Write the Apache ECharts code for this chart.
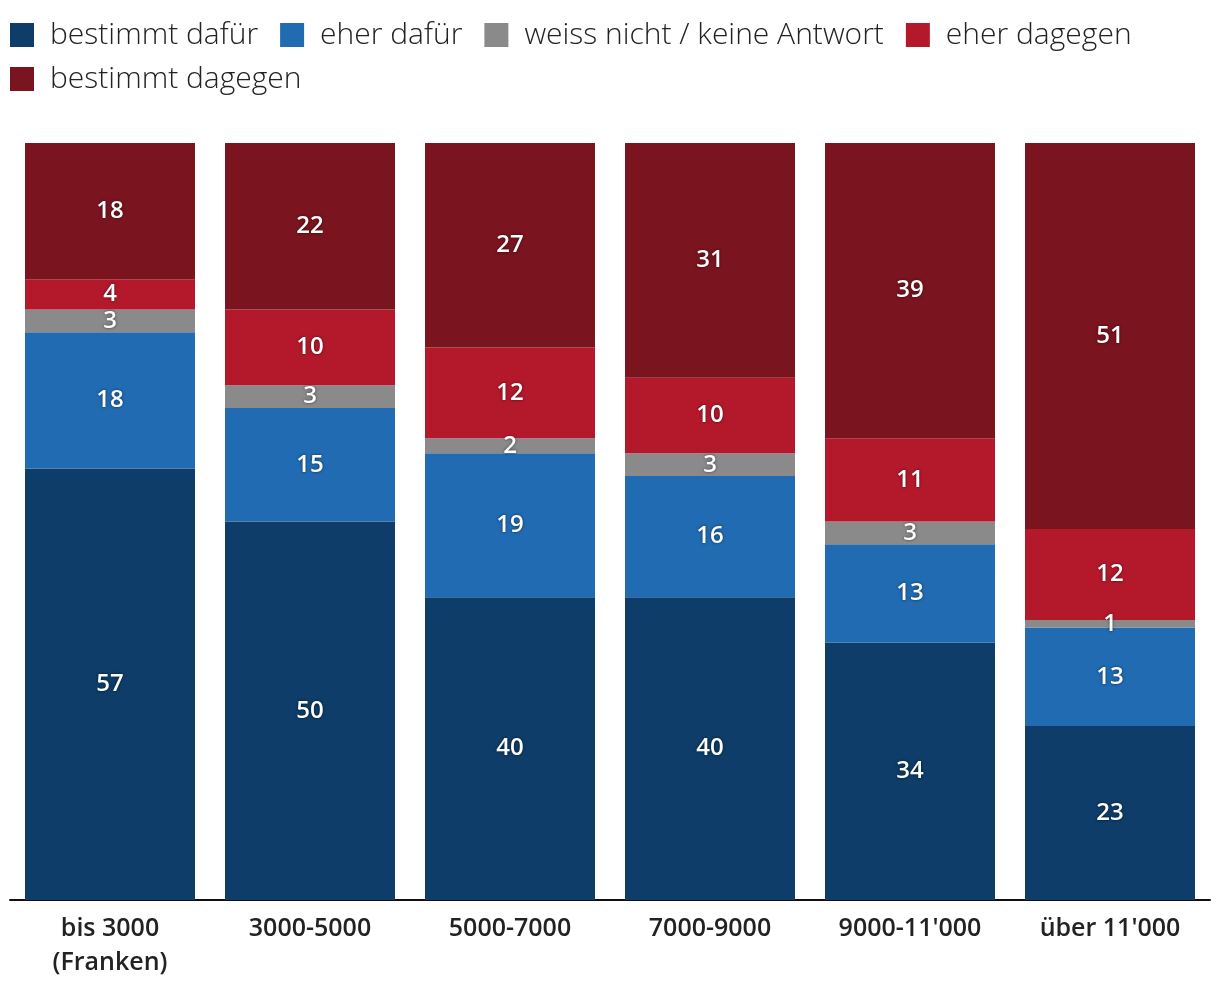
<!DOCTYPE html>
<html>
<head>
<meta charset="utf-8">
<script src="https://cdn.jsdelivr.net/npm/echarts@6/dist/echarts.min.js"></script>
<style>html,body{margin:0;padding:0;background:#fff}#c{width:1220px;height:998px}</style>
</head>
<body>
<div id="c"></div>
<script>
const categories = ["bis 3000\n(Franken)", "3000-5000", "5000-7000", "7000-9000", "9000-11'000", "über 11'000"];
const seriesNames = ["bestimmt dafür", "eher dafür", "weiss nicht / keine Antwort", "eher dagegen", "bestimmt dagegen"];
const bestimmtDafuer = [57, 50, 40, 40, 34, 23];
const eherDafuer = [18, 15, 19, 16, 13, 13];
const weissNicht = [3, 3, 2, 3, 3, 1];
const eherDagegen = [4, 10, 12, 10, 11, 12];
const bestimmtDagegen = [18, 22, 27, 31, 39, 51];
const colors = ["#0d3d68", "#206bb2", "#8a8a8a", "#b3192b", "#7a141f"];

const allData = [bestimmtDafuer, eherDafuer, weissNicht, eherDagegen, bestimmtDagegen];
const fontFam = "'Open Sans', 'Noto Sans', sans-serif";

const chart = echarts.init(document.getElementById('c'));
chart.setOption({
  animation: false,
  color: colors,
  legend: {
    left: 5, top: 15, width: 1190,
    itemWidth: 24, itemHeight: 24, itemGap: 14,
    icon: 'rect',
    textStyle: { fontSize: 30, lineHeight: 25, fontFamily: fontFam, fontWeight: 300, color: '#222', padding: [0, 8, 0, 11] },
    data: seriesNames
  },
  grid: { left: 10, right: 10, top: 143, bottom: 98 },
  xAxis: {
    type: 'category', data: categories,
    axisLine: { lineStyle: { color: '#111', width: 2 } },
    axisTick: { show: false },
    axisLabel: { fontSize: 25, fontWeight: 600, fontFamily: fontFam, color: '#222', margin: 12, lineHeight: 34 }
  },
  yAxis: { type: 'value', min: 0, max: 100, show: false, splitLine: { show: false } },
  series: seriesNames.map((n, i) => ({
    name: n, type: 'bar', stack: 'total', data: allData[i],
    barCategoryGap: '15%',
    label: {
      show: true, position: 'inside', color: '#fff', fontSize: 24, fontWeight: 600, fontFamily: fontFam,
      textShadowColor: 'rgba(0,0,0,0.6)', textShadowBlur: 3
    }
  }))
});
</script>
</body>
</html>
